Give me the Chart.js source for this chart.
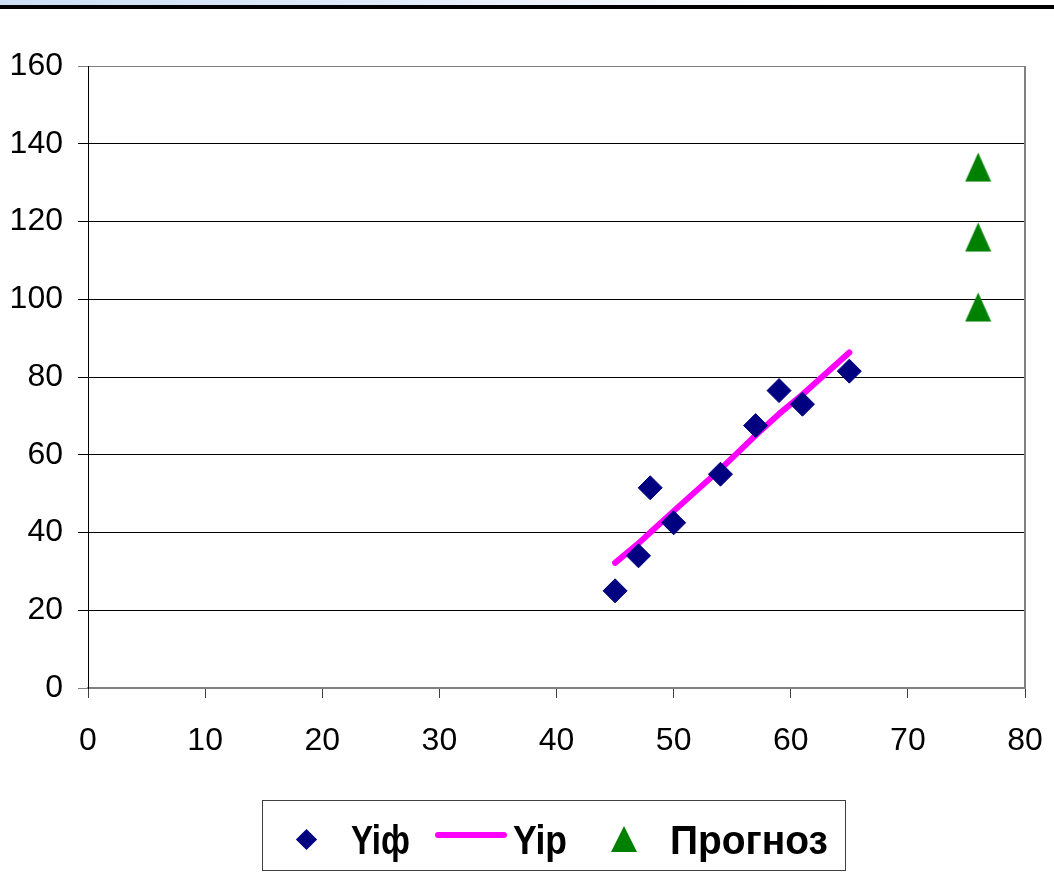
<!DOCTYPE html>
<html>
<head>
<meta charset="utf-8">
<script src="https://cdn.jsdelivr.net/npm/chart.js@4.4.0/dist/chart.umd.min.js"></script>
<style>
html,body{margin:0;padding:0;background:#fff;}
#wrap{position:relative;width:1054px;height:878px;overflow:hidden;background:#fff;}
#band{position:absolute;left:0;top:0;width:1054px;height:5px;background:linear-gradient(to right,#cddff6 0%,#deeafa 35%,#f3f7fd 60%,#ffffff 80%);}
#rule{position:absolute;left:0;top:5px;width:1054px;height:4px;background:#000;}
#c{position:absolute;left:0;top:0;}
#legend{position:absolute;left:262px;top:800px;width:584px;height:71px;border:1px solid #404040;box-sizing:border-box;}
.lg{position:absolute;}
.lg-text{position:absolute;font-family:"Liberation Sans",Arial,sans-serif;font-weight:bold;font-size:41px;line-height:40px;color:#000;white-space:nowrap;transform-origin:0 50%;}
#lgDiamond{left:299px;top:832px;width:15px;height:15px;background:#000080;transform:rotate(45deg);}
#lgLine{left:435px;top:832px;width:72px;height:6px;background:#ff00ff;border-radius:3px;}
#lgTri{left:611px;top:826px;width:0;height:0;border-left:13px solid transparent;border-right:13px solid transparent;border-bottom:26px solid #008000;}
</style>
</head>
<body>
<div id="wrap">
  <div id="band"></div>
  <div id="rule"></div>
  <canvas id="c" width="1054" height="878"></canvas>
  <div id="legend"></div>
  <div class="lg" id="lgDiamond"></div>
  <span class="lg-text" id="lgT1" style="left:351px;top:820px;">Yiф</span>
  <div class="lg" id="lgLine"></div>
  <span class="lg-text" id="lgT2" style="left:513px;top:820px;">Yip</span>
  <div class="lg" id="lgTri"></div>
  <span class="lg-text" id="lgT3" style="left:670px;top:820px;">Прогноз</span>
</div>
<script>
// ---- data ----
const seriesNames = ['Yiф', 'Yip', 'Прогноз'];
const xValues = [45, 47, 48, 50, 54, 57, 59, 61, 65];
const yActual = [25, 34, 51.5, 42.5, 55, 67.5, 76.5, 73, 81.5];
const yCalculated = [32.2, 37.2, 40, 45.5, 56.3, 65, 70.5, 75.5, 86.3];
const forecastX = [76, 76, 76];
const forecastY = [134, 116, 98];
const xTickValues = [0, 10, 20, 30, 40, 50, 60, 70, 80];
const yTickValues = [0, 20, 40, 60, 80, 100, 120, 140, 160];

// legend text widths in the reference (px), used to narrow the bold text
const legendTextWidths = { lgT1: 59, lgT2: 54, lgT3: 158 };
Object.keys(legendTextWidths).forEach(id => {
  const el = document.getElementById(id);
  const w = el.getBoundingClientRect().width;
  if (w > 0) el.style.transform = 'scaleX(' + (legendTextWidths[id] / w).toFixed(3) + ')';
});

const tickFamily = '"Liberation Sans", Arial, sans-serif';
const tickSize = 32;

// ---- triangle marker ----
function triangleImage(w, h, color) {
  const cv = document.createElement('canvas');
  cv.width = w; cv.height = h;
  const g = cv.getContext('2d');
  g.fillStyle = color;
  g.beginPath();
  g.moveTo(w / 2, 0.5);
  g.lineTo(w - 0.5, h - 0.5);
  g.lineTo(0.5, h - 0.5);
  g.closePath();
  g.fill();
  return cv;
}
const triImg = triangleImage(27, 30, '#008000');

const frame = {
  id: 'frame',
  beforeDatasetsDraw(chart) {
    const a = chart.chartArea, ctx = chart.ctx;
    ctx.save();
    ctx.strokeStyle = '#808080';
    ctx.lineWidth = 2;
    ctx.beginPath();
    ctx.moveTo(a.right, a.top);
    ctx.lineTo(a.right, a.bottom);
    ctx.stroke();
    ctx.restore();
  }
};

new Chart(document.getElementById('c'), {
  type: 'scatter',
  data: {
    datasets: [
      {
        label: seriesNames[0],
        data: xValues.map((x, i) => ({ x: x, y: yActual[i] })),
        pointStyle: 'rectRot',
        pointRadius: 12,
        backgroundColor: '#000080',
        borderColor: '#000080',
        borderWidth: 1,
        order: 0
      },
      {
        label: seriesNames[1],
        data: xValues.map((x, i) => ({ x: x, y: yCalculated[i] })),
        showLine: true,
        borderColor: '#ff00ff',
        borderWidth: 6,
        borderCapStyle: 'round',
        borderJoinStyle: 'round',
        pointRadius: 0,
        order: 1
      },
      {
        label: seriesNames[2],
        data: forecastX.map((x, i) => ({ x: x, y: forecastY[i] })),
        pointStyle: triImg,
        pointRadius: 14,
        backgroundColor: '#008000',
        borderColor: '#008000',
        order: 2
      }
    ]
  },
  options: {
    responsive: false,
    animation: false,
    devicePixelRatio: 1,
    layout: { padding: { top: 66, right: 29, left: 0, bottom: 0 } },
    plugins: { legend: { display: false }, tooltip: { enabled: false } },
    scales: {
      x: {
        type: 'linear',
        min: 0, max: 80,
        afterBuildTicks: s => { s.ticks = xTickValues.map(v => ({ value: v })); },
        afterFit: s => { s.height = 190; s.paddingLeft = 0; s.paddingRight = 0; },
        grid: { drawOnChartArea: false, drawTicks: true, tickLength: 10, color: '#404040', lineWidth: 1 },
        border: { display: true, color: '#808080', width: 2 },
        ticks: { color: '#000', padding: 24, maxRotation: 0, font: { family: tickFamily, size: tickSize } }
      },
      y: {
        type: 'linear',
        min: 0, max: 160,
        afterBuildTicks: s => { s.ticks = yTickValues.map(v => ({ value: v })); },
        afterFit: s => { s.width = 88; s.paddingTop = 0; s.paddingBottom = 0; },
        grid: {
          drawOnChartArea: true, drawTicks: true, tickLength: 10, lineWidth: 1,
          color: c => (c.tick && (c.tick.value === 160 || c.tick.value === 0)) ? '#808080' : '#000'
        },
        border: { display: true, color: '#000', width: 1 },
        ticks: { color: '#000', padding: 15, font: { family: tickFamily, size: tickSize } }
      }
    }
  },
  plugins: [frame]
});
</script>
</body>
</html>
